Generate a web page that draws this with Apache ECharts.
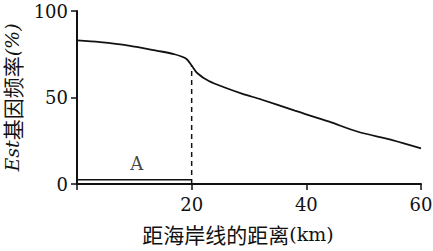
<!DOCTYPE html>
<html><head><meta charset="utf-8">
<script src="https://cdn.jsdelivr.net/npm/echarts@6/dist/echarts.min.js"></script>
<style>html,body{margin:0;padding:0;background:#fff}#c{width:433px;height:251px}</style>
</head><body><div id="c"></div>
<script>
var curveX = [0, 4, 9, 14, 17, 19, 20, 21, 23, 26, 29, 32, 38, 44, 49, 55, 60];
var curveY = [83, 82, 80, 77, 75, 72.5, 68.5, 64, 59.5, 55.5, 52, 49, 42.4, 36, 30.2, 25.4, 20.6];
var lineAX = [0, 20];
var lineAY = [2.5, 2.5];
var dashX = [20, 20];
var dashY = [0, 68.5];
var labelA = [10.4, 12];
var xTicks = [0, 20, 40, 60];
var yTicks = [0, 50, 100];

var serif = 'DejaVu Serif';
var cjk = 'Noto Sans CJK SC';
function zip(a, b) { return a.map(function (v, i) { return [v, b[i]]; }); }

var chart = echarts.init(document.getElementById('c'), null, {renderer: 'svg'});
chart.setOption({
  animation: false,
  grid: {left: 77, right: 12, top: 11, bottom: 67, containLabel: false, outerBoundsMode: 'none'},
  xAxis: {
    type: 'value', min: xTicks[0], max: xTicks[xTicks.length - 1], interval: 20,
    name: '{c|距海岸线的距离}{s|(km)}', nameLocation: 'middle', nameGap: 39,
    nameTextStyle: {color: '#111', padding: [0, 22, 0, 0], rich: {
      c: {fontFamily: cjk, fontSize: 21, color: '#111'},
      s: {fontFamily: serif, fontSize: 19, color: '#111'}
    }},
    axisLine: {show: true, lineStyle: {color: '#111', width: 2}},
    axisTick: {show: true, inside: false, length: 6, lineStyle: {color: '#111', width: 1.5}},
    axisLabel: {fontFamily: serif, fontSize: 18, color: '#111', margin: 11,
      formatter: function (v) { return v === 0 ? '' : String(v); }},
    splitLine: {show: false}
  },
  yAxis: {
    type: 'value', min: yTicks[0], max: yTicks[yTicks.length - 1], interval: 50,
    name: '{i|Est}{c|基因频率}{i|(%)}', nameLocation: 'middle', nameGap: 49, nameRotate: 90,
    nameTextStyle: {color: '#111', rich: {
      i: {fontFamily: serif, fontStyle: 'italic', fontSize: 19, color: '#111'},
      c: {fontFamily: cjk, fontSize: 21, color: '#111'}
    }},
    axisLine: {show: true, lineStyle: {color: '#111', width: 2}},
    axisTick: {show: true, inside: false, length: 6, lineStyle: {color: '#111', width: 1.5}},
    axisLabel: {fontFamily: serif, fontSize: 18, color: '#111', margin: 9},
    splitLine: {show: false}
  },
  series: [
    {type: 'line', data: zip(curveX, curveY), smooth: 0.3, showSymbol: false,
      lineStyle: {color: '#111', width: 1.8}},
    {type: 'line', data: zip(dashX, dashY), showSymbol: false,
      lineStyle: {color: '#111', width: 1.5, type: [5, 4]}},
    {type: 'line', data: zip(lineAX, lineAY), showSymbol: false,
      lineStyle: {color: '#111', width: 1.5}},
    {type: 'scatter', data: [labelA], symbolSize: 0,
      label: {show: true, position: 'inside', formatter: 'A', fontFamily: serif, fontSize: 18, color: '#111'}}
  ]
});
</script></body></html>
